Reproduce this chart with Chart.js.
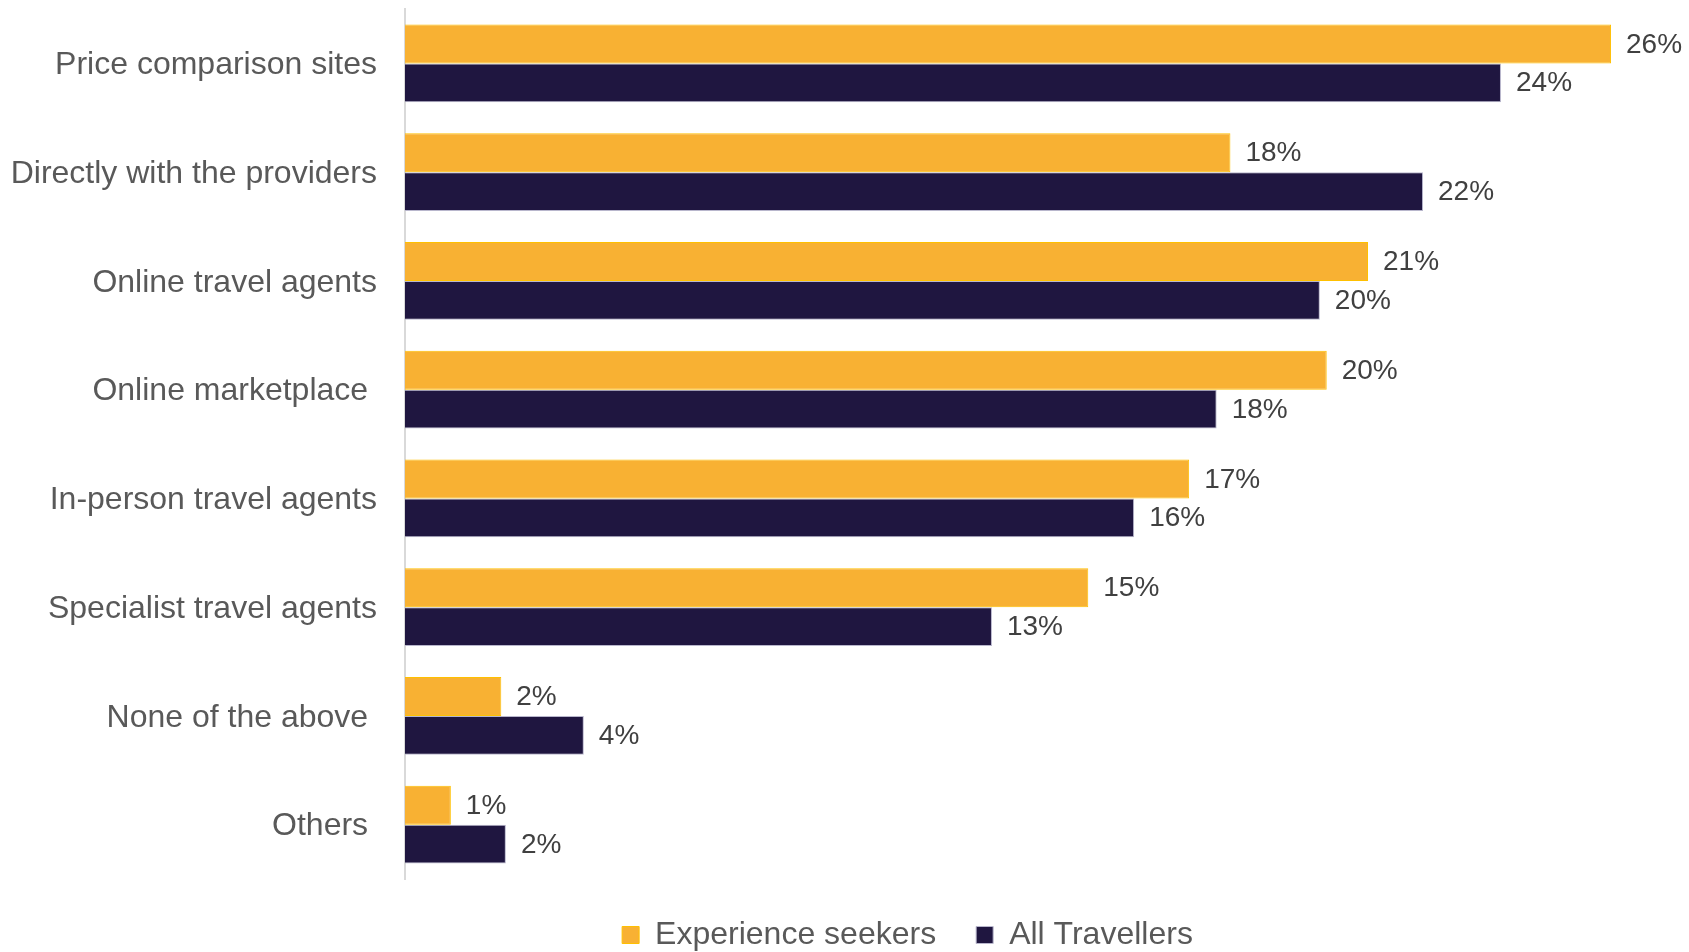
<!DOCTYPE html>
<html>
<head>
<meta charset="utf-8">
<script src="https://cdn.jsdelivr.net/npm/chart.js@4/dist/chart.umd.min.js"></script>
<style>
  html, body { margin: 0; padding: 0; background: #ffffff; }
  #wrap { width: 1689px; height: 952px; }
</style>
</head>
<body>
<div id="wrap"><canvas id="channelChart" width="1689" height="952"></canvas></div>
<script>
// Booking channels: Experience seekers vs All Travellers

const categories = [
    'Price comparison sites',
    'Directly with the providers',
    'Online travel agents',
    'Online marketplace ',
    'In-person travel agents',
    'Specialist travel agents',
    'None of the above ',
    'Others '
];

const seriesNames = ['Experience seekers', 'All Travellers'];

// values, labels are shown rounded
const experienceSeekers = [26.3, 18.0, 21.0, 20.1, 17.1, 14.9, 2.1, 1.0];
const allTravellers = [23.9, 22.2, 19.95, 17.7, 15.9, 12.8, 3.9, 2.2];

const FONT = '"Liberation Sans", Arial, sans-serif';
const AXIS_X = 405;

// Draw the percentage next to each bar
const valueLabels = {
    id: 'valueLabels',
    afterDatasetsDraw(chart) {
        const ctx = chart.ctx;
        ctx.save();
        ctx.font = '28px ' + FONT;
        ctx.fillStyle = '#404040';
        ctx.textAlign = 'left';
        ctx.textBaseline = 'middle';
        chart.data.datasets.forEach((ds, i) => {
            chart.getDatasetMeta(i).data.forEach((bar, j) => {
                ctx.fillText(Math.round(ds.data[j]) + '%', bar.x + 15, bar.y + 1);
            });
        });
        ctx.restore();
    }
};

// The legend sits a bit right of the canvas centre in the original
const legendShift = {
    id: 'legendShift',
    afterLayout(chart) {
        if (chart.legend) {
            chart.legend.left += 126;
        }
    }
};

const ctx = document.getElementById('channelChart');

new Chart(ctx, {
    type: 'bar',
    data: {
        labels: categories,
        datasets: [
            {
                label: seriesNames[0],
                data: experienceSeekers,
                backgroundColor: '#F8B133',
                borderColor: '#FFC000',
                borderWidth: 1
            },
            {
                label: seriesNames[1],
                data: allTravellers,
                backgroundColor: '#1F1640',
                borderColor: '#B8B6CC',
                borderWidth: 1
            }
        ]
    },
    options: {
        indexAxis: 'y',
        responsive: false,
        animation: false,
        layout: {
            padding: { top: 9, left: 0, right: 0, bottom: 0 }
        },
        datasets: {
            bar: {
                categoryPercentage: 0.713,
                barPercentage: 1.0
            }
        },
        scales: {
            x: {
                display: false,
                min: 0,
                max: 28
            },
            y: {
                grid: { display: false, drawTicks: false },
                border: { display: true, color: '#D9D9D9', width: 2 },
                ticks: {
                    color: '#595959',
                    padding: 28,
                    labelOffset: 2,
                    font: { family: FONT, size: 32 }
                },
                afterFit(scale) {
                    scale.width = AXIS_X;
                    scale.paddingTop = 0;
                    scale.paddingBottom = 0;
                }
            }
        },
        plugins: {
            legend: {
                position: 'bottom',
                maxHeight: 73,
                labels: {
                    color: '#595959',
                    boxWidth: 17,
                    boxHeight: 17,
                    padding: 40,
                    font: { family: FONT, size: 32 }
                }
            },
            tooltip: { enabled: false }
        }
    },
    plugins: [valueLabels, legendShift]
});
</script>
</body>
</html>
